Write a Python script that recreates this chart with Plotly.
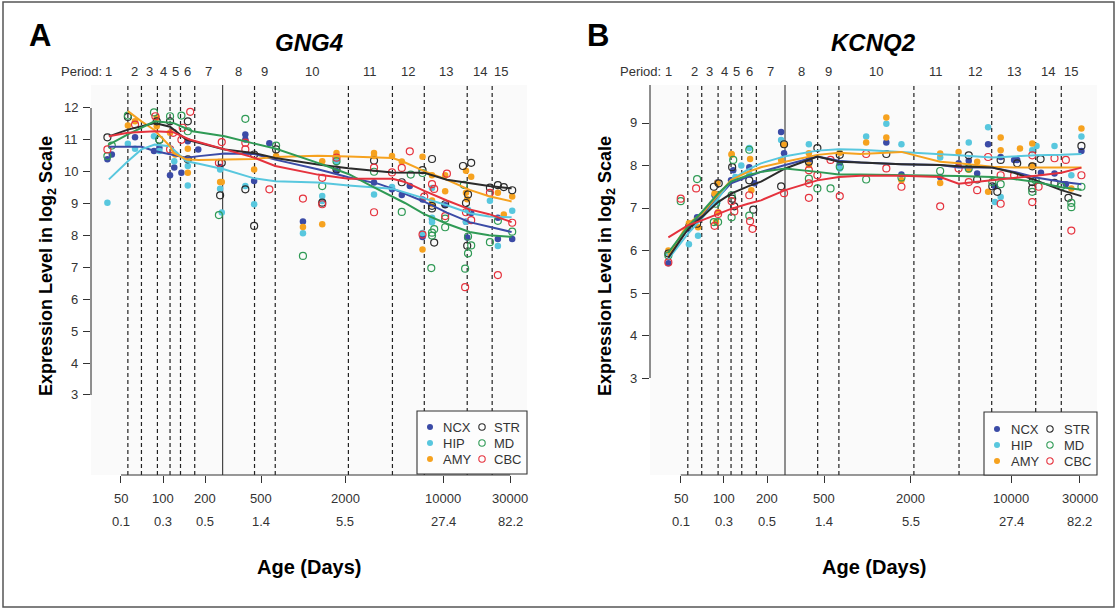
import math
import plotly.graph_objects as go

W, H = 1119, 609
FONT = "Liberation Sans, Arial, Helvetica, sans-serif"

# ---------------- data ----------------
regions = ["NCX", "HIP", "AMY", "STR", "MD", "CBC"]
region_colors = ["#3b4ba6", "#58c7de", "#f6a21f", "#2b2b2b", "#2f9a55", "#e5323d"]
region_filled = [True, True, True, False, False, False]

period_bounds = [56, 70, 91, 112, 133, 168, 266, 449, 631, 2100, 4330, 7310, 14800, 22300]
birth_day = 266
period_span = [30, 30000]
period_names = [str(i) for i in range(1, 16)]

x_tick_days = [50, 100, 200, 500, 2000, 10000, 30000]
x_tick_days_text = ["50", "100", "200", "500", "2000", "10000", "30000"]
x_tick_years = ["0.1", "0.3", "0.5", "1.4", "5.5", "27.4", "82.2"]

gng4_yticks = list(range(3, 13))
kcnq2_yticks = list(range(3, 10))

# ---- GNG4 sample points (age in days, log2 expression) ----
gng4_ncx_pts = [(40, 10.39), (43, 10.54), (63, 11.08), (86, 10.65), (94, 10.75), (112, 9.89), (120, 10.13),
                (135, 9.97), (150, 10.96), (178, 10.70), (255, 10.15), (386, 11.17), (386, 11.01), (446, 9.71),
                (573, 10.89), (995, 8.44), (1727, 10.02), (3200, 9.66), (4300, 9.45), (5760, 9.55), (5050, 9.27),
                (7100, 9.13), (7100, 7.95), (8300, 8.52), (10300, 8.95), (14500, 8.43), (15800, 8.71),
                (14800, 7.94), (24500, 8.56), (24500, 7.89), (31000, 7.89)]
gng4_hip_pts = [(40, 9.03), (56, 10.88), (63, 10.72), (86, 11.11), (94, 10.65), (120, 10.33), (150, 10.18),
                (150, 9.57), (255, 10.07), (255, 9.47), (262, 8.72), (386, 9.55), (446, 8.98), (995, 8.07),
                (1366, 9.24), (1366, 9.08), (1727, 10.33), (3200, 9.29), (4300, 9.52), (7100, 8.08), (8300, 9.49),
                (8300, 8.42), (8300, 8.56), (14500, 8.43), (15000, 8.81), (21500, 9.09), (24500, 7.67),
                (31000, 8.78)]
gng4_amy_pts = [(56, 11.45), (63, 11.58), (90, 11.43), (90, 11.69), (112, 11.22), (122, 10.54), (150, 10.39),
                (150, 10.72), (150, 9.97), (255, 9.68), (262, 9.68), (446, 10.07), (640, 10.49), (995, 8.27),
                (1366, 10.33), (1366, 8.35), (1727, 10.59), (1727, 10.49), (3200, 10.59), (3200, 10.49),
                (4300, 10.49), (5050, 10.32), (7100, 10.47), (7100, 7.56), (8300, 9.89), (8300, 8.98),
                (8300, 9.10), (10300, 9.39), (10300, 9.89), (14500, 10.03), (15800, 9.84), (14500, 9.34),
                (14800, 9.14), (24500, 9.34), (27000, 8.66), (31000, 9.22)]
gng4_str_pts = [(40, 11.08), (56, 11.72), (90, 11.58), (94, 11.00), (112, 11.58), (150, 11.58), (150, 10.39),
                (262, 10.28), (255, 9.26), (446, 10.54), (386, 9.45), (446, 8.30), (640, 10.70), (1366, 9.03),
                (1727, 10.07), (3200, 10.35), (5050, 9.67), (7100, 10.05), (8300, 10.40), (8300, 8.93),
                (8300, 8.85), (8600, 7.78), (10300, 8.98), (13800, 10.18), (15800, 10.28), (15000, 9.29),
                (14500, 9.02), (14800, 7.68), (21500, 9.50), (24500, 9.58), (27000, 9.52), (31000, 9.42)]
gng4_md_pts = [(40, 10.49), (43, 10.82), (56, 11.76), (86, 11.86), (94, 11.00), (112, 11.74), (135, 11.76),
               (150, 11.27), (250, 8.64), (386, 11.66), (640, 10.82), (995, 7.36), (1366, 9.55), (1727, 10.33),
               (3200, 10.00), (5050, 8.74), (5850, 9.91), (7100, 9.96), (8200, 6.98), (8300, 8.09), (8300, 8.00),
               (8600, 8.20), (10300, 8.53), (10300, 8.26), (14000, 9.59), (15000, 7.97), (15800, 7.69),
               (15000, 7.44), (14300, 6.96), (21500, 7.79), (24500, 8.46), (31000, 8.12)]
gng4_cbc_pts = [(40, 10.70), (63, 11.48), (88, 11.74), (118, 11.22), (112, 10.70), (138, 11.38), (135, 11.00),
                (156, 11.88), (262, 10.93), (250, 10.28), (386, 10.91), (386, 10.70), (573, 9.45), (995, 9.16),
                (1366, 9.81), (1366, 8.98), (1727, 10.44), (3200, 10.13), (3200, 8.73), (4300, 9.98),
                (5050, 10.12), (5760, 10.64), (7100, 8.03), (7300, 9.22), (8300, 9.61), (8600, 9.46),
                (10300, 8.61), (10600, 9.94), (14500, 8.73), (15800, 8.48), (14300, 6.38), (21500, 9.34),
                (24500, 6.76), (31000, 8.40)]

# ---- GNG4 smoothed curves ----
gng4_ncx_fit = [(41, 10.78), (56, 10.78), (70, 10.78), (87, 10.65), (112, 10.55), (146, 10.44), (180, 10.49),
                (275, 10.57), (440, 10.56), (631, 10.38), (1270, 10.08), (2100, 9.83), (3450, 9.62),
                (4330, 9.47), (7310, 9.06), (10600, 8.72), (15400, 8.42), (21200, 8.27), (30700, 8.11)]
gng4_hip_fit = [(41, 9.76), (56, 10.33), (70, 10.70), (87, 10.85), (112, 10.80), (146, 10.33), (180, 10.25),
                (275, 10.07), (440, 9.80), (631, 9.70), (1270, 9.66), (2100, 9.57), (4330, 9.47), (7310, 9.17),
                (10600, 8.95), (15400, 8.70), (21200, 8.60), (30700, 8.57)]
gng4_amy_fit = [(56, 11.90), (70, 11.58), (87, 11.30), (112, 10.80), (118, 10.59), (146, 10.39), (180, 10.37),
                (275, 10.39), (440, 10.40), (631, 10.46), (1270, 10.50), (2100, 10.48), (4330, 10.43),
                (5090, 10.33), (7310, 10.02), (10600, 9.75), (15400, 9.43), (21200, 9.23), (30700, 9.07)]
gng4_str_fit = [(41, 11.11), (56, 11.32), (87, 11.53), (112, 11.41), (146, 11.01), (275, 10.70), (440, 10.59),
                (631, 10.43), (1270, 10.23), (2100, 10.11), (4330, 9.98), (7310, 9.97), (10600, 9.75),
                (15400, 9.63), (21200, 9.55), (30700, 9.48)]
gng4_md_fit = [(41, 10.85), (56, 11.17), (87, 11.58), (118, 11.53), (162, 11.27), (275, 11.11), (440, 10.89),
               (631, 10.73), (1270, 10.28), (2100, 9.93), (3125, 9.53), (4330, 9.22), (5320, 9.02), (7310, 8.67),
               (10600, 8.37), (15400, 8.11), (21200, 8.01), (30700, 7.96)]
gng4_cbc_fit = [(41, 11.11), (56, 11.22), (87, 11.27), (118, 11.24), (154, 11.01), (275, 10.70), (440, 10.45),
                (631, 10.18), (1270, 9.91), (2100, 9.78), (4330, 9.78), (5320, 9.68), (7310, 9.40),
                (10600, 9.10), (15400, 8.82), (21200, 8.67), (30700, 8.42)]

# ---- KCNQ2 sample points ----
kcnq2_ncx_pts = [(41, 5.70), (56, 6.50), (65, 6.78), (90, 7.60), (86, 7.30), (116, 7.89), (112, 7.65),
                 (150, 7.96), (163, 7.58), (250, 8.79), (262, 8.29), (390, 8.13), (640, 8.05), (1350, 8.54),
                 (1720, 7.79), (3200, 7.73), (4300, 8.05), (5060, 8.11), (5790, 7.81), (6900, 8.50),
                 (7700, 7.51), (8440, 8.20), (10470, 8.13), (11000, 8.13), (16100, 7.83), (20000, 7.81),
                 (24000, 7.56), (30800, 8.34)]
kcnq2_hip_pts = [(41, 5.95), (57, 6.15), (66, 6.35), (88, 7.26), (90, 7.14), (120, 7.73), (132, 8.00),
                 (150, 8.41), (150, 7.80), (250, 8.60), (390, 8.50), (640, 7.93), (977, 8.68), (1350, 8.98),
                 (1720, 8.50), (3200, 8.19), (5060, 8.54), (6900, 8.90), (7700, 7.14), (8440, 7.26),
                 (15000, 8.46), (14000, 8.36), (20000, 8.46), (26200, 7.77), (30800, 8.68)]
kcnq2_amy_pts = [(41, 6.00), (57, 6.64), (66, 6.55), (86, 7.34), (90, 7.59), (88, 6.67), (91, 6.90),
                 (113, 8.25), (113, 8.27), (152, 8.15), (155, 7.42), (250, 8.13), (262, 8.49), (390, 8.29),
                 (390, 8.01), (640, 8.30), (977, 8.54), (1350, 9.13), (1350, 8.66), (1720, 7.65), (3200, 8.28),
                 (3200, 7.59), (4300, 8.32), (5060, 7.90), (5790, 8.09), (6900, 7.38), (8440, 8.66),
                 (8440, 8.36), (11500, 8.40), (14000, 8.52), (14000, 8.00), (26200, 7.46), (30800, 8.87)]
kcnq2_str_pts = [(41, 5.93), (57, 6.55), (65, 6.63), (85, 7.50), (92, 7.58), (114, 7.96), (114, 7.22),
                 (118, 7.04), (150, 7.65), (160, 6.96), (262, 8.50), (250, 7.51), (390, 8.09), (447, 8.41),
                 (640, 8.25), (1350, 8.27), (5060, 8.24), (5790, 7.67), (7380, 7.51), (8000, 7.38),
                 (8440, 8.13), (11000, 8.05), (14000, 7.98), (14000, 7.61), (14000, 7.46), (16000, 8.15),
                 (20000, 7.59), (25000, 7.24), (30800, 8.46)]
kcnq2_md_pts = [(41, 5.88), (50, 7.16), (65, 7.68), (88, 7.10), (85, 6.67), (91, 6.67), (116, 8.13),
                (113, 7.30), (113, 6.78), (150, 8.37), (150, 6.82), (390, 7.69), (447, 7.46), (552, 7.46),
                (640, 7.97), (977, 7.67), (1720, 7.72), (3200, 7.87), (5060, 7.93), (7380, 7.61), (8440, 7.56),
                (14000, 7.38), (14800, 7.65), (22300, 7.51), (26200, 7.12), (26200, 7.02), (30800, 7.50)]
kcnq2_cbc_pts = [(41, 5.72), (50, 7.22), (64, 7.46), (86, 6.58), (91, 6.86), (113, 7.16), (118, 6.92),
                 (150, 7.30), (152, 6.69), (158, 6.51), (262, 7.35), (390, 7.89), (390, 7.58), (390, 7.24),
                 (447, 7.77), (552, 8.13), (640, 7.28), (977, 8.27), (1350, 7.93), (1720, 7.50), (3200, 7.04),
                 (4300, 7.93), (5060, 7.61), (5790, 7.42), (6900, 8.20), (8440, 7.10), (8440, 7.77),
                 (10470, 7.77), (14000, 8.24), (14000, 7.14), (15500, 7.50), (20000, 8.17), (24000, 8.13),
                 (26200, 6.47), (30800, 7.77)]

# ---- KCNQ2 smoothed curves ----
kcnq2_fit_ages = [41, 56, 70, 91, 112, 147, 181, 267, 447, 631, 891, 1720, 3200, 4300, 7380, 10470, 14860,
                  22300, 30800]
kcnq2_ncx_fit = [5.87, 6.50, 6.82, 7.26, 7.58, 7.73, 7.85, 8.01, 8.21, 8.11, 8.07, 8.03, 8.01, 7.95, 7.95,
                 7.85, 7.72, 7.62, 7.56]
kcnq2_hip_fit = [5.80, 6.39, 6.75, 7.22, 7.66, 7.91, 8.05, 8.22, 8.35, 8.38, 8.37, 8.32, 8.27, 8.24, 8.19,
                 8.22, 8.24, 8.25, 8.27]
kcnq2_amy_fit = [5.87, 6.63, 6.86, 7.30, 7.66, 7.85, 7.96, 8.09, 8.25, 8.30, 8.27, 8.32, 8.09, 8.05, 7.97,
                 7.95, 7.95, 7.95, 7.95]
kcnq2_str_fit = [5.83, 6.50, 6.78, 7.14, 7.34, 7.51, 7.62, 7.93, 8.21, 8.09, 8.07, 8.03, 8.01, 7.98, 7.95,
                 7.83, 7.65, 7.42, 7.28]
kcnq2_md_fit = [5.95, 6.56, 6.90, 7.34, 7.62, 7.77, 7.85, 7.93, 7.85, 7.79, 7.79, 7.78, 7.77, 7.75, 7.73,
                7.68, 7.61, 7.49, 7.43]
kcnq2_cbc_fit = [6.31, 6.59, 6.71, 6.86, 6.98, 7.10, 7.18, 7.42, 7.65, 7.73, 7.76, 7.76, 7.73, 7.57, 7.65,
                 7.70, 7.76, 7.83, 7.95]

# ---------------- layout helpers (pixel geometry) ----------------
def px(x):
    return x / W


def py(y):
    return 1 - y / H


PLOT_TOP, PLOT_BOT = 85, 475
panels = [
    dict(xa="x", ya="y", left=91, right=527, yrange=[0.491, 12.72], yticks=gng4_yticks,
         ytop_line=12, letter="A", gene="GNG4", letter_x=40,
         legend_box=(417, 527, 411, 474), legend_rows=[427, 443, 459], legend_cols=(430, 441, 482, 492),
         pts=[gng4_ncx_pts, gng4_hip_pts, gng4_amy_pts, gng4_str_pts, gng4_md_pts, gng4_cbc_pts],
         fits=[list(zip(*f)) for f in [gng4_ncx_fit, gng4_hip_fit, gng4_amy_fit, gng4_str_fit,
                                         gng4_md_fit, gng4_cbc_fit]]),
    dict(xa="x2", ya="y2", left=650, right=1097, yrange=[0.718, 9.894], yticks=kcnq2_yticks,
         ytop_line=9.894, letter="B", gene="KCNQ2", letter_x=598,
         legend_box=(984, 1097, 412, 475), legend_rows=[429, 445, 461], legend_cols=(997, 1009, 1050, 1062),
         pts=[kcnq2_ncx_pts, kcnq2_hip_pts, kcnq2_amy_pts, kcnq2_str_pts, kcnq2_md_pts, kcnq2_cbc_pts],
         fits=[(kcnq2_fit_ages, f) for f in [kcnq2_ncx_fit, kcnq2_hip_fit, kcnq2_amy_fit, kcnq2_str_fit,
                                               kcnq2_md_fit, kcnq2_cbc_fit]]),
]

fig = go.Figure()
shapes = []
annotations = []
TXT = "#333333"

for p in panels:
    xa, ya = p["xa"], p["ya"]
    # points
    for i, reg in enumerate(regions):
        xs = [a for a, v in p["pts"][i]]
        ys = [v for a, v in p["pts"][i]]
        if region_filled[i]:
            marker = dict(symbol="circle", size=6.5, color=region_colors[i], line=dict(width=0))
        else:
            marker = dict(symbol="circle-open", size=7, color=region_colors[i], line=dict(width=1.2))
        fig.add_trace(go.Scatter(x=xs, y=ys, mode="markers", marker=marker, xaxis=xa, yaxis=ya,
                                 showlegend=False, hoverinfo="skip", name=reg))
    # smoothed lines
    for i, reg in enumerate(regions):
        ages, vals = p["fits"][i]
        fig.add_trace(go.Scatter(x=list(ages), y=list(vals), mode="lines",
                                 line=dict(color=region_colors[i], width=2), xaxis=xa, yaxis=ya,
                                 showlegend=False, hoverinfo="skip", name=reg + " fit"))

    xref, yref = xa, ya
    xdom, ydom = xa + " domain", ya + " domain"
    # period boundary lines
    for b in period_bounds:
        solid = (b == birth_day)
        shapes.append(dict(type="line", xref=xref, yref=ydom, x0=b, x1=b, y0=0, y1=1, layer="below",
                           line=dict(color="#222", width=1.0 if solid else 1.2,
                                     dash="solid" if solid else "4px,3px")))
    # axis lines
    shapes.append(dict(type="line", xref=xdom, yref=yref, x0=0, x1=0, y0=3, y1=p["ytop_line"],
                       line=dict(color="#333", width=1.1)))
    shapes.append(dict(type="line", xref=xref, yref=ydom, x0=x_tick_days[0], x1=x_tick_days[-1],
                       y0=0, y1=0, line=dict(color="#333", width=1.1)))
    # legend box
    lx0, lx1, ly0, ly1 = p["legend_box"]
    shapes.append(dict(type="rect", xref="paper", yref="paper", x0=px(lx0), x1=px(lx1), y0=py(ly1),
                       y1=py(ly0), fillcolor="#fdfdfd", line=dict(color="#333", width=1.1), layer="above"))
    c1m, c1t, c2m, c2t = p["legend_cols"]
    for r in range(3):
        yy = p["legend_rows"][r]
        for col, (mx, tx) in enumerate([(c1m, c1t), (c2m, c2t)]):
            idx = r + 3 * col
            filled = region_filled[idx]
            shapes.append(dict(type="circle", xref="paper", yref="paper", xsizemode="pixel",
                               ysizemode="pixel", xanchor=px(mx), yanchor=py(yy),
                               x0=-3 if filled else -3.2, x1=3 if filled else 3.2,
                               y0=-3 if filled else -3.2, y1=3 if filled else 3.2,
                               fillcolor=region_colors[idx] if filled else "rgba(0,0,0,0)",
                               line=dict(color=region_colors[idx], width=0 if filled else 1.1),
                               layer="above"))
            annotations.append(dict(xref="paper", yref="paper", x=px(tx), y=py(yy), text=regions[idx],
                                    showarrow=False, xanchor="left", yanchor="middle",
                                    font=dict(family=FONT, size=13, color=TXT)))

    # y tick labels
    for v in p["yticks"]:
        annotations.append(dict(xref=xdom, yref=yref, x=0, y=v, text=str(v), showarrow=False,
                                xanchor="right", yanchor="middle", xshift=-11,
                                font=dict(family=FONT, size=13, color=TXT)))
    # x tick labels (two rows)
    for d, t1, t2 in zip(x_tick_days, x_tick_days_text, x_tick_years):
        annotations.append(dict(xref=xref, yref="paper", x=math.log10(d), y=py(498), text=t1,
                                showarrow=False, xanchor="center", yanchor="middle",
                                font=dict(family=FONT, size=13, color=TXT)))
        annotations.append(dict(xref=xref, yref="paper", x=math.log10(d), y=py(521), text=t2,
                                showarrow=False, xanchor="center", yanchor="middle",
                                font=dict(family=FONT, size=13, color=TXT)))
    # period labels
    edges = [period_span[0]] + period_bounds + [period_span[1]]
    for k, name in enumerate(period_names):
        mid = math.sqrt(edges[k] * edges[k + 1])
        annotations.append(dict(xref=xref, yref="paper", x=math.log10(mid), y=py(72), text=name,
                                showarrow=False, xanchor="center", yanchor="middle",
                                font=dict(family=FONT, size=13, color=TXT)))
        if k == 0:
            annotations.append(dict(xref=xref, yref="paper", x=math.log10(mid), y=py(72), text="Period:",
                                    showarrow=False, xanchor="right", yanchor="middle", xshift=-5,
                                    font=dict(family=FONT, size=13, color=TXT)))
    cx = (p["left"] + p["right"]) / 2
    # gene title
    annotations.append(dict(xref="paper", yref="paper", x=px(cx), y=py(42), text="<b><i>" + p["gene"] + "</i></b>",
                            showarrow=False, xanchor="center", yanchor="middle",
                            font=dict(family=FONT, size=24, color="#000")))
    # panel letter
    annotations.append(dict(xref="paper", yref="paper", x=px(p["letter_x"]), y=py(35),
                            text="<b>" + p["letter"] + "</b>", showarrow=False, xanchor="center",
                            yanchor="middle", font=dict(family=FONT, size=31, color="#000")))
    # axis titles
    annotations.append(dict(xref="paper", yref="paper", x=px(cx), y=py(567), text="<b>Age (Days)</b>",
                            showarrow=False, xanchor="center", yanchor="middle",
                            font=dict(family=FONT, size=20, color="#000")))
    annotations.append(dict(xref="paper", yref="paper", x=px(p["left"] - 44), y=py(266),
                            text="<b>Expression Level in log<sub>2</sub> Scale</b>", textangle=-90,
                            showarrow=False, xanchor="center", yanchor="middle",
                            font=dict(family=FONT, size=18, color="#000")))

# outer frame
shapes.append(dict(type="rect", xref="paper", yref="paper", x0=px(3), x1=px(1114), y0=py(607), y1=py(2),
                   line=dict(color="#555", width=1.5), fillcolor="rgba(0,0,0,0)", layer="above"))

ydomain = [py(PLOT_BOT), py(PLOT_TOP)]
xaxis_common = dict(type="log", range=[1.485, 4.597], tickvals=x_tick_days, ticks="outside", ticklen=7,
                    tickwidth=1.1, tickcolor="#333", showticklabels=False, showgrid=False, zeroline=False,
                    showline=False, fixedrange=True)
yaxis_common = dict(ticks="outside", ticklen=7, tickwidth=1.1, tickcolor="#333", showticklabels=False,
                    showgrid=False, zeroline=False, showline=False, fixedrange=True)

fig.update_layout(
    width=W, height=H, margin=dict(l=0, r=0, t=0, b=0),
    paper_bgcolor="white", plot_bgcolor="#fafafa",
    showlegend=False,
    xaxis=dict(domain=[px(panels[0]["left"]), px(panels[0]["right"])], anchor="y", **xaxis_common),
    yaxis=dict(domain=ydomain, anchor="x", range=panels[0]["yrange"], tickvals=gng4_yticks, **yaxis_common),
    xaxis2=dict(domain=[px(panels[1]["left"]), px(panels[1]["right"])], anchor="y2", **xaxis_common),
    yaxis2=dict(domain=ydomain, anchor="x2", range=panels[1]["yrange"], tickvals=kcnq2_yticks,
                **yaxis_common),
    shapes=shapes,
    annotations=annotations,
)

fig.write_html("out.html", config={"displayModeBar": False},
               post_script="document.body.style.margin='0px';document.body.style.overflow='hidden';")
